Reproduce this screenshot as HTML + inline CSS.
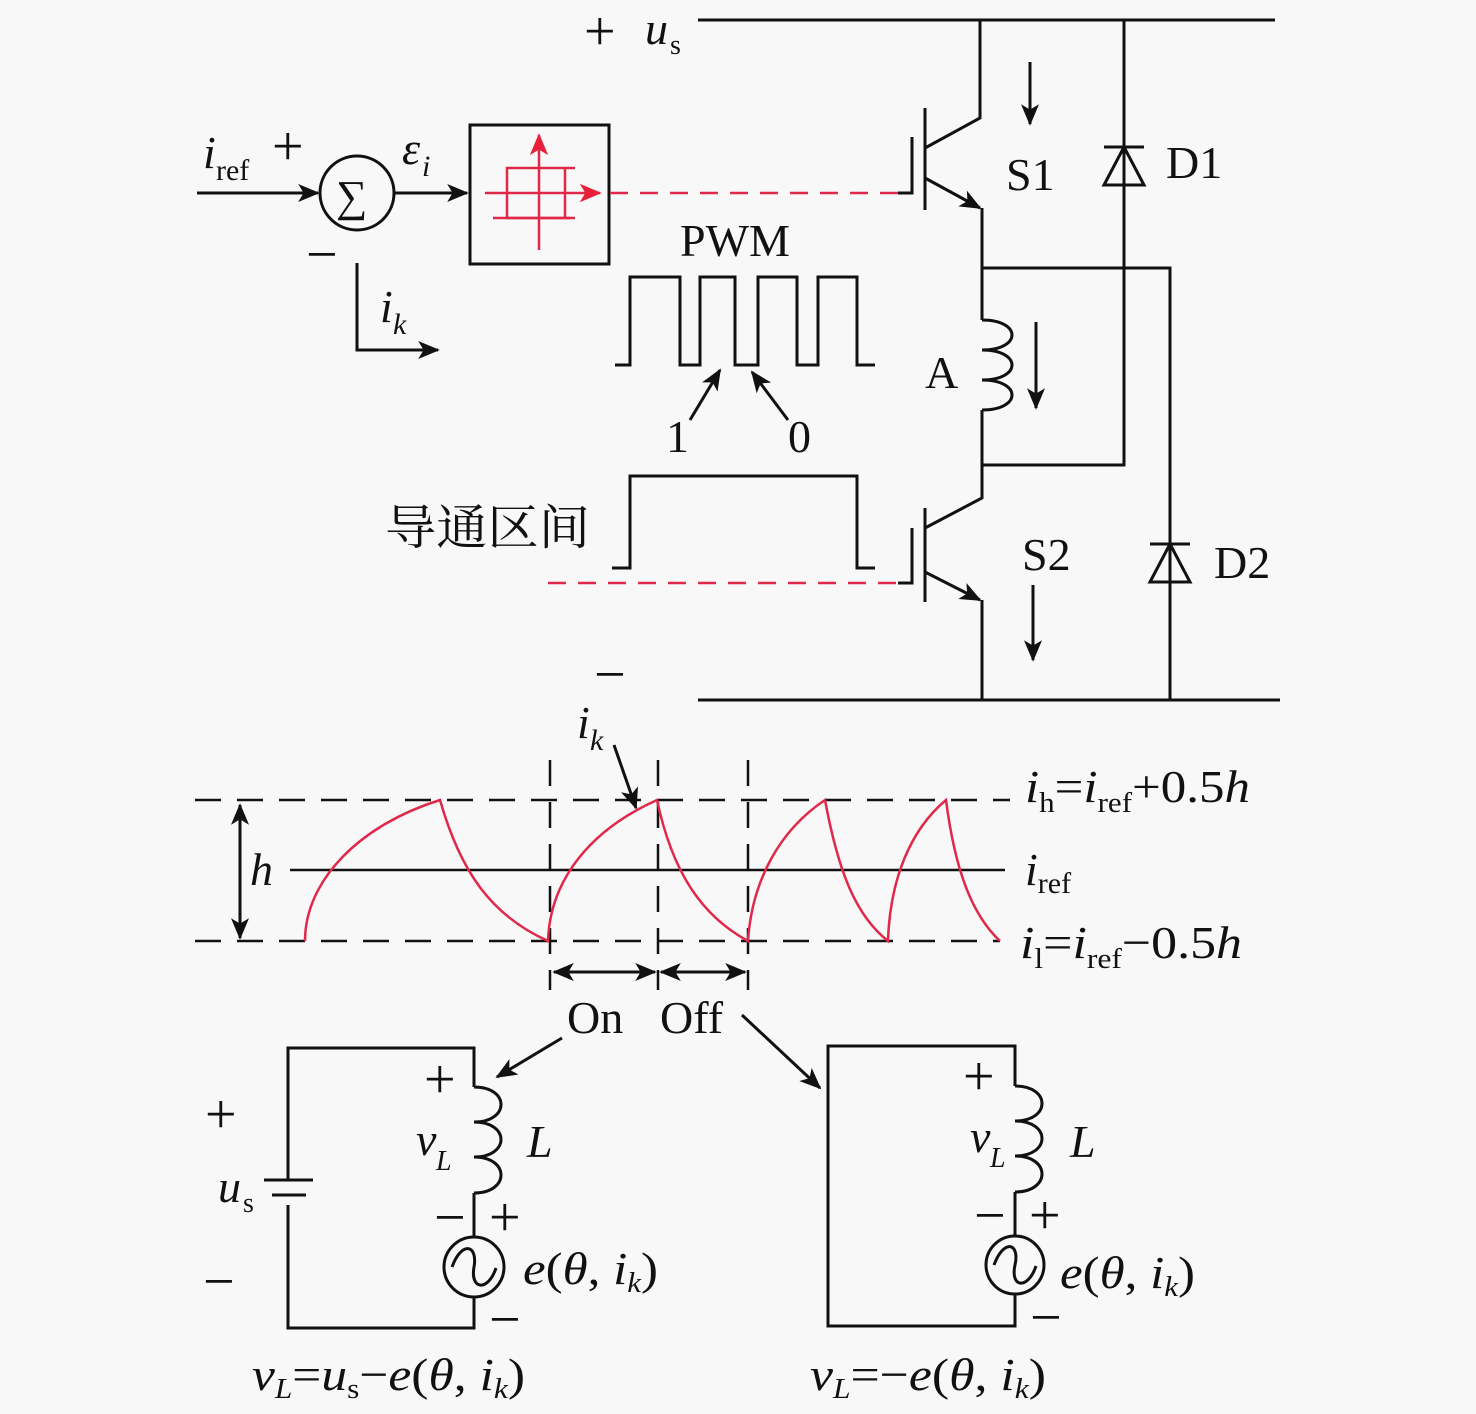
<!DOCTYPE html>
<html><head><meta charset="utf-8"><style>
html,body{margin:0;padding:0;background:#f8f8f8;}
svg{display:block;}
text{font-family:"Liberation Serif","Noto Serif CJK SC",serif;fill:#111;}
.i{font-style:italic;}
.pm{font-size:56px;font-family:"DejaVu Sans","Liberation Sans",sans-serif;font-weight:200;}
</style></head><body>
<svg width="1476" height="1414" viewBox="0 0 1476 1414" xmlns="http://www.w3.org/2000/svg">
<defs>
<marker id="ahb" viewBox="0 0 12 10" refX="11" refY="5" markerWidth="22" markerHeight="18" markerUnits="userSpaceOnUse" orient="auto-start-reverse"><path d="M0,0 L12,5 L0,10 L3,5 Z" fill="#111"/></marker>
<marker id="ahr" viewBox="0 0 12 10" refX="11" refY="5" markerWidth="22" markerHeight="20" markerUnits="userSpaceOnUse" orient="auto"><path d="M0,0 L12,5 L0,10 L3,5 Z" fill="#e8203a"/></marker>
</defs>
<g stroke="#111" stroke-width="3" fill="none">
<line x1="698" y1="20" x2="1275" y2="20"/>
<line x1="698" y1="700" x2="1280" y2="700"/>
<polyline points="980,20 980,118 925,148"/>
<line x1="925" y1="108" x2="925" y2="210"/>
<polyline points="898,193 912,193 912,137"/>
<line x1="925" y1="178" x2="980" y2="208" marker-end="url(#ahb)"/>
<polyline points="982,208 982,320"/>
<path d="M982,320 C1022,320 1022,350 982,350 C1022,350 1022,380 982,380 C1022,380 1022,410 982,410"/>
<polyline points="982,410 982,465 1124,465 1124,20"/>
<polyline points="982,268 1170,268 1170,700"/>
<polyline points="982,465 982,498 925,528"/>
<line x1="925" y1="508" x2="925" y2="602"/>
<polyline points="898,583 912,583 912,528"/>
<line x1="925" y1="572" x2="980" y2="600" marker-end="url(#ahb)"/>
<line x1="982" y1="600" x2="982" y2="700"/>
<path d="M1104,185 L1144,185 L1124,147 Z M1104,147 L1144,147" />
<path d="M1150,582 L1190,582 L1170,544 Z M1150,544 L1190,544"/>
<line x1="1030" y1="62" x2="1030" y2="124" marker-end="url(#ahb)"/>
<line x1="1036" y1="322" x2="1036" y2="408" marker-end="url(#ahb)"/>
<line x1="1033" y1="585" x2="1033" y2="660" marker-end="url(#ahb)"/>
<line x1="197" y1="193" x2="318" y2="193" marker-end="url(#ahb)"/>
<circle cx="357" cy="193" r="37"/>
<line x1="394" y1="193" x2="467" y2="193" marker-end="url(#ahb)"/>
<rect x="470" y="125" width="139" height="139"/>
<polyline points="357,263 357,350 438,350" marker-end="url(#ahb)"/>
<polyline points="615,365 630,365 630,277 680,277 680,365 700,365 700,277 735,277 735,365 758,365 758,277 797,277 797,365 818,365 818,277 857,277 857,365 875,365"/>
<line x1="690" y1="420" x2="720" y2="370" marker-end="url(#ahb)"/>
<line x1="788" y1="420" x2="752" y2="372" marker-end="url(#ahb)"/>
<polyline points="612,568 630,568 630,476 857,476 857,568 875,568"/>
<g stroke-width="2.5" stroke-dasharray="26,16">
<line x1="195" y1="800" x2="1010" y2="800"/>
<line x1="195" y1="941" x2="1000" y2="941"/>
<line x1="550" y1="760" x2="550" y2="990"/>
<line x1="658" y1="760" x2="658" y2="990"/>
<line x1="748" y1="760" x2="748" y2="990"/>
</g>
<line x1="290" y1="870" x2="1005" y2="870" stroke-width="2.5"/>
<line x1="240" y1="870" x2="240" y2="805" marker-end="url(#ahb)"/>
<line x1="240" y1="870" x2="240" y2="938" marker-end="url(#ahb)"/>
<line x1="604" y1="972" x2="554" y2="972" marker-end="url(#ahb)"/>
<line x1="604" y1="972" x2="655" y2="972" marker-end="url(#ahb)"/>
<line x1="703" y1="972" x2="661" y2="972" marker-end="url(#ahb)"/>
<line x1="703" y1="972" x2="745" y2="972" marker-end="url(#ahb)"/>
<line x1="614" y1="745" x2="636" y2="808" marker-end="url(#ahb)"/>
<line x1="562" y1="1038" x2="497" y2="1077" marker-end="url(#ahb)"/>
<line x1="742" y1="1015" x2="820" y2="1088" marker-end="url(#ahb)"/>
<polyline points="288,1180 288,1048 474,1048 474,1087"/>
<path d="M474,1087 C510,1087 510,1122 474,1122 C510,1122 510,1157 474,1157 C510,1157 510,1193 474,1193"/>
<line x1="474" y1="1193" x2="474" y2="1237"/>
<circle cx="474" cy="1267" r="30"/>
<path d="M452,1267 C462,1240 478,1245 474,1267 C470,1290 488,1292 496,1268"/>
<polyline points="474,1297 474,1328 288,1328 288,1205"/>
<line x1="264" y1="1180" x2="313" y2="1180"/>
<line x1="272" y1="1195" x2="306" y2="1195"/>
<polyline points="1015,1086 1015,1046 828,1046 828,1326 1015,1326 1015,1294"/>
<path d="M1015,1086 C1051,1086 1051,1121 1015,1121 C1051,1121 1051,1156 1015,1156 C1051,1156 1051,1192 1015,1192"/>
<line x1="1015" y1="1192" x2="1015" y2="1236"/>
<circle cx="1015" cy="1265" r="29"/>
<path d="M994,1265 C1004,1238 1020,1243 1015,1265 C1010,1288 1028,1290 1036,1266"/>
</g>
<g stroke="#e0284a" stroke-width="2.5" fill="none">
<line x1="610" y1="193" x2="898" y2="193" stroke-dasharray="18,12"/>
<line x1="548" y1="583" x2="898" y2="583" stroke-dasharray="18,12"/>
<line x1="485" y1="193" x2="600" y2="193" marker-end="url(#ahr)"/>
<line x1="539" y1="250" x2="539" y2="135" marker-end="url(#ahr)"/>
<polyline points="575,168 507,168 507,218 570,218"/>
<line x1="493" y1="218" x2="575" y2="218"/>
<line x1="565" y1="168" x2="565" y2="218"/>
<path d="M305,941 C305,880 360,825 440,800 C460,870 490,915 548,941 C550,880 590,830 657,800 C672,870 700,915 748,941 C752,880 780,830 825,800 C838,870 855,915 888,941 C890,880 910,830 946,800 C955,870 972,915 1000,941"/>
</g>
<g class="pm">
<text x="584" y="50">+</text>
<text x="272" y="165">+</text>
<text x="306" y="273">−</text>
<text x="594" y="693">−</text>
<text x="205" y="1133">+</text>
<text x="203" y="1300">−</text>
<text x="424" y="1098">+</text>
<text x="434" y="1236">−</text>
<text x="489" y="1236">+</text>
<text x="489" y="1338">−</text>
<text x="963" y="1095">+</text>
<text x="974" y="1234">−</text>
<text x="1029" y="1234">+</text>
<text x="1030" y="1336">−</text>
</g>
<g font-size="46">
<text class="i" x="645" y="44">u</text><text x="670" y="54" font-size="28">s</text>
<text class="i" x="203" y="168">i</text><text x="216" y="180" font-size="30">ref</text>
<text class="i" x="402" y="164">ε</text><text class="i" x="422" y="176" font-size="30">i</text>
<text class="i" x="380" y="322">i</text><text class="i" x="393" y="334" font-size="30">k</text>
<text x="336" y="211" font-size="44">∑</text>
<text x="1006" y="190">S1</text>
<text x="1166" y="178">D1</text>
<text x="680" y="256">PWM</text>
<text x="925" y="388">A</text>
<text x="666" y="452">1</text>
<text x="788" y="452">0</text>
<text x="385" y="544" font-family="Liberation Sans, Noto Sans CJK SC, sans-serif" font-size="48" textLength="205" lengthAdjust="spacingAndGlyphs">导通区间</text>
<text x="1022" y="570">S2</text>
<text x="1214" y="578">D2</text>
<text class="i" x="577" y="738">i</text><text class="i" x="590" y="750" font-size="30">k</text>
<text class="i" x="250" y="885">h</text>
<text x="1025" y="802" textLength="225" lengthAdjust="spacingAndGlyphs"><tspan class="i">i</tspan><tspan font-size="28" dy="10">h</tspan><tspan dy="-10">=</tspan><tspan class="i">i</tspan><tspan font-size="28" dy="10">ref</tspan><tspan dy="-10">+0.5</tspan><tspan class="i">h</tspan></text>
<text x="1025" y="885"><tspan class="i">i</tspan><tspan font-size="30" dy="8">ref</tspan></text>
<text x="1020" y="958" textLength="222" lengthAdjust="spacingAndGlyphs"><tspan class="i">i</tspan><tspan font-size="28" dy="10">l</tspan><tspan dy="-10">=</tspan><tspan class="i">i</tspan><tspan font-size="28" dy="10">ref</tspan><tspan dy="-10">−0.5</tspan><tspan class="i">h</tspan></text>
<text x="567" y="1033">On</text>
<text x="660" y="1033">Off</text>
<text class="i" x="218" y="1202">u</text><text x="243" y="1212" font-size="28">s</text>
<text class="i" x="416" y="1155">v</text><text class="i" x="436" y="1170" font-size="28">L</text>
<text class="i" x="527" y="1157">L</text>
<text x="523" y="1284" textLength="135" lengthAdjust="spacingAndGlyphs"><tspan class="i">e</tspan>(<tspan class="i">θ</tspan>, <tspan class="i">i</tspan><tspan class="i" font-size="28" dy="8">k</tspan><tspan dy="-8">)</tspan></text>
<text class="i" x="970" y="1152">v</text><text class="i" x="990" y="1167" font-size="28">L</text>
<text class="i" x="1070" y="1157">L</text>
<text x="1060" y="1288" textLength="135" lengthAdjust="spacingAndGlyphs"><tspan class="i">e</tspan>(<tspan class="i">θ</tspan>, <tspan class="i">i</tspan><tspan class="i" font-size="28" dy="8">k</tspan><tspan dy="-8">)</tspan></text>
<text x="252" y="1390" textLength="273" lengthAdjust="spacingAndGlyphs"><tspan class="i">v</tspan><tspan class="i" font-size="28" dy="8">L</tspan><tspan dy="-8">=</tspan><tspan class="i">u</tspan><tspan font-size="28" dy="8">s</tspan><tspan dy="-8">−</tspan><tspan class="i">e</tspan>(<tspan class="i">θ</tspan>, <tspan class="i">i</tspan><tspan class="i" font-size="28" dy="8">k</tspan><tspan dy="-8">)</tspan></text>
<text x="810" y="1390" textLength="236" lengthAdjust="spacingAndGlyphs"><tspan class="i">v</tspan><tspan class="i" font-size="28" dy="8">L</tspan><tspan dy="-8">=−</tspan><tspan class="i">e</tspan>(<tspan class="i">θ</tspan>, <tspan class="i">i</tspan><tspan class="i" font-size="28" dy="8">k</tspan><tspan dy="-8">)</tspan></text>
</g>
</svg>
</body></html>
